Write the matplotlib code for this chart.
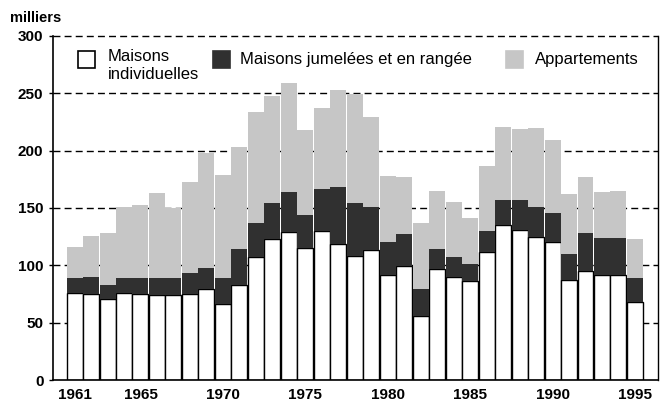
import matplotlib.pyplot as plt
from matplotlib.patches import Rectangle

plt.rcParams['font.family'] = ['Liberation Sans', 'DejaVu Sans']

# Mises en chantier, milliers de logements
annees = list(range(1961, 1996))

individuelles = [76, 75, 71, 76, 75, 74, 74, 75, 79, 66,
                 83, 107, 123, 129, 115, 130, 119, 108, 113, 92,
                 99, 56, 97, 90, 86, 112, 135, 131, 125, 120,
                 87, 95, 92, 92, 68]

# sommet cumulé (individuelles + jumelées/rangée)
cumul_jumelees = [89, 90, 83, 89, 89, 89, 89, 93, 98, 89,
                  114, 137, 154, 164, 144, 167, 168, 154, 151, 120,
                  127, 79, 114, 107, 101, 130, 157, 157, 151, 146,
                  110, 128, 124, 124, 89]

# total (sommet des barres)
total = [116, 126, 128, 151, 153, 163, 150, 173, 198, 179,
         203, 234, 248, 259, 218, 237, 253, 249, 229, 178,
         177, 137, 165, 155, 141, 187, 221, 219, 220, 209,
         162, 177, 164, 165, 123]

jumelees = [c - i for c, i in zip(cumul_jumelees, individuelles)]
appartements = [t - c for t, c in zip(total, cumul_jumelees)]

yticks = [0, 50, 100, 150, 200, 250, 300]
xticks = [1961, 1965, 1970, 1975, 1980, 1985, 1990, 1995]

gris = '#c6c6c6'
noir = '#303030'

fig = plt.figure(figsize=(6.64, 4.04), dpi=100)
ax = fig.add_axes([0.080, 0.0594, 0.911, 0.8515])

for y in yticks[1:]:
    ax.axhline(y, color='black', lw=1.0, ls=(0, (5, 3)), zorder=0, clip_on=False)

w = 0.97
ax.bar(annees, individuelles, width=w, color='white', edgecolor='black', lw=1.0, zorder=2)
ax.bar(annees, jumelees, width=w, bottom=individuelles, color=noir, lw=0, zorder=2)
ax.bar(annees, appartements, width=w, bottom=cumul_jumelees, color=gris, lw=0, zorder=2)

ax.set_xlim(1959.7, 1996.4)
ax.set_ylim(0, 300)
ax.set_yticks(yticks)
ax.set_xticks(xticks)
ax.tick_params(axis='y', length=3, width=1, labelsize=11, pad=4)
ax.tick_params(axis='x', length=0, labelsize=11, pad=6)
for lab in ax.get_xticklabels() + ax.get_yticklabels():
    lab.set_fontweight('bold')

ax.spines['top'].set_visible(False)
ax.spines['left'].set_linewidth(1.2)
ax.spines['bottom'].set_linewidth(1.2)
ax.spines['right'].set_linewidth(1.0)

fig.text(0.015, 0.955, 'milliers', fontsize=10.5, fontweight='bold', va='center')

# légende
tr = ax.transAxes
def case(x, y, couleur, bord):
    ax.add_patch(Rectangle((x, y), 0.028, 0.05, transform=tr, facecolor=couleur,
                           edgecolor=bord, lw=1.2, clip_on=False, zorder=5))

case(0.041, 0.906, 'white', 'black')
ax.text(0.090, 0.962, 'Maisons\nindividuelles', transform=tr, fontsize=12,
        va='top', ha='left', linespacing=1.25)
case(0.264, 0.906, noir, noir)
ax.text(0.309, 0.933, 'Maisons jumelées et en rangée', transform=tr, fontsize=12,
        va='center', ha='left')
case(0.748, 0.906, gris, gris)
ax.text(0.797, 0.933, 'Appartements', transform=tr, fontsize=12,
        va='center', ha='left')

fig.savefig('out.png', dpi=100)
